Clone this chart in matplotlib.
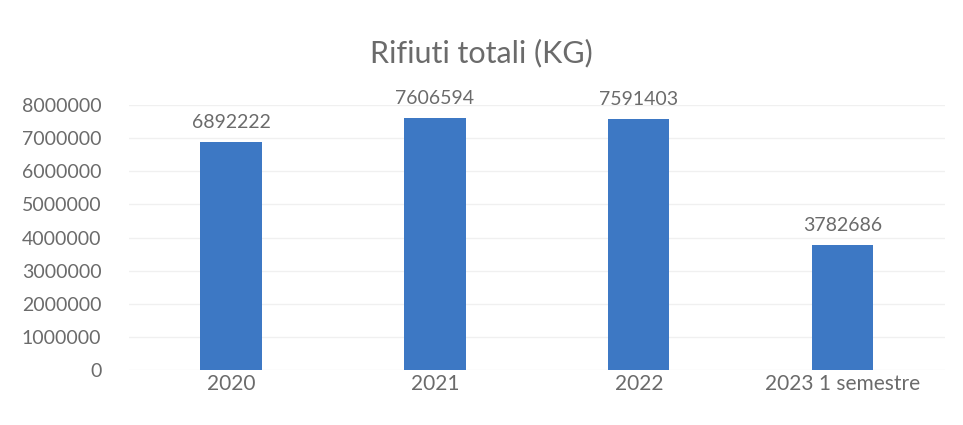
import matplotlib.pyplot as plt

categories = ["2020", "2021", "2022", "2023 1 semestre"]
values = [6892222, 7606594, 7591403, 3782686]
yticks = [0, 1000000, 2000000, 3000000, 4000000, 5000000, 6000000, 7000000, 8000000]

plt.rcParams["font.family"] = ["Lato", "DejaVu Sans"]
text_color = "#6b6b6b"

fig = plt.figure(figsize=(9.63, 4.25), dpi=100)
ax = fig.add_axes([0.134, 0.129, 0.847, 0.624])

x = range(len(categories))
ax.bar(x, values, width=0.3, color="#3d78c4", zorder=2)

for xi, v in zip(x, values):
    ax.text(xi, v + 330000, str(v), ha="center", va="bottom",
            fontsize=14, color=text_color)

ax.set_xlim(-0.5, len(categories) - 0.5)
ax.set_ylim(0, 8000000)
ax.set_yticks(yticks)
ax.set_yticklabels([str(t) for t in yticks])
ax.set_xticks(list(x))
ax.set_xticklabels(categories)
ax.tick_params(axis="both", length=0, labelsize=14, labelcolor=text_color)
ax.tick_params(axis="x", pad=3, labelsize=15)
ax.tick_params(axis="y", pad=20)
ax.grid(axis="y", color="#f0f0f0", linewidth=1, zorder=0)
for s in ax.spines.values():
    s.set_visible(False)

fig.text(0.5, 0.875, "Rifiuti totali (KG)", ha="center", va="center",
         fontsize=22, color=text_color)

fig.savefig("out.png", dpi=100, facecolor="white")
